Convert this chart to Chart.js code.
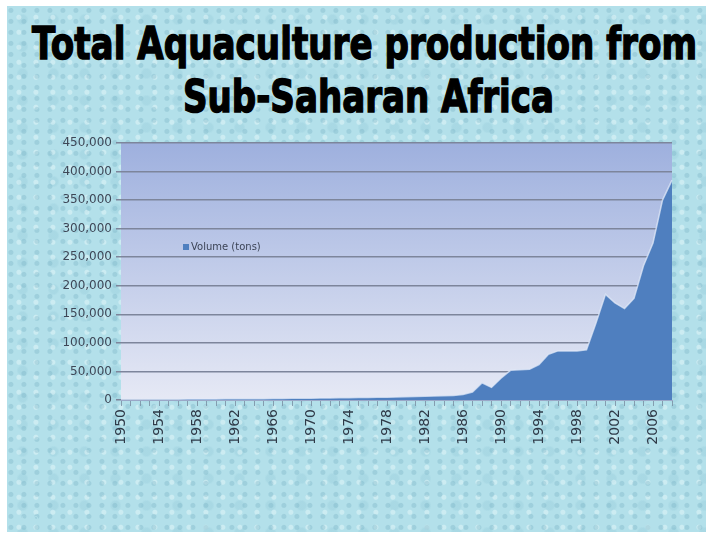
<!DOCTYPE html>
<html>
<head>
<meta charset="utf-8">
<script src="https://cdn.jsdelivr.net/npm/chart.js@4"></script>
<style>
    html, body { margin: 0; padding: 0; background: #fff; }
    body { width: 709px; height: 538px; position: relative; overflow: hidden; }
    #board {
        position: absolute; left: 7px; top: 6px; width: 699px; height: 526px;
        background:
            radial-gradient(circle at 30% 40%, rgba(110, 170, 190, 0.30) 0 2px, transparent 3px) 0 0 / 13px 11px,
            radial-gradient(circle at 70% 75%, rgba(235, 250, 252, 0.45) 0 2px, transparent 3px) 0 0 / 17px 15px,
            radial-gradient(circle at 50% 50%, rgba(120, 180, 200, 0.18) 0 4px, transparent 6px) 0 0 / 31px 27px,
            #b3e0ea;
    }
    .tline {
        position: absolute; white-space: nowrap;
        font-family: "DejaVu Sans", sans-serif;
        font-weight: bold; font-size: 44px; line-height: 54px; color: #000;
        -webkit-text-stroke: 1.5px #000;
        transform-origin: 0 0;
    }
    canvas { position: absolute; left: 0; top: 0; }
    #status { position: absolute; left: 12px; top: 515px; font: 9px "DejaVu Sans", sans-serif; color: #b3e0ea; }
</style>
</head>
<body>
<div id="board"></div>
<div class="tline" id="t1" data-left="32" data-width="665" style="top:17px">Total Aquaculture production from</div>
<div class="tline" id="t2" data-left="183" data-width="371" style="top:70px">Sub-Saharan Africa</div>
<canvas id="chart" width="709" height="538"></canvas>
<div id="status"></div>
<script>
const years = [
    1950, 1951, 1952, 1953, 1954, 1955, 1956, 1957, 1958, 1959,
    1960, 1961, 1962, 1963, 1964, 1965, 1966, 1967, 1968, 1969,
    1970, 1971, 1972, 1973, 1974, 1975, 1976, 1977, 1978, 1979,
    1980, 1981, 1982, 1983, 1984, 1985, 1986, 1987, 1988, 1989,
    1990, 1991, 1992, 1993, 1994, 1995, 1996, 1997, 1998, 1999,
    2000, 2001, 2002, 2003, 2004, 2005, 2006, 2007, 2008,
];

// tons
const volume = [
    800, 900, 1000, 1100, 1300, 1400, 1500, 1600, 1700, 1800,
    1900, 2000, 2100, 2200, 2300, 2400, 2600, 2700, 2900, 3000,
    3200, 3400, 3600, 3800, 4000, 4300, 4500, 4800, 5000, 5300,
    5600, 6000, 6500, 7000, 7400, 8000, 9500, 14000, 30000, 22000,
    38000, 52000, 53000, 54000, 62000, 80000, 86000, 86000, 86000, 88000,
    135000, 185000, 170000, 160000, 178000, 235000, 275000, 350000, 385000,
];

const seriesLabel = "Volume (tons)";
const yTicks = [0, 50000, 100000, 150000, 200000, 250000, 300000, 350000, 400000, 450000];

const areaBlue = "#4f7fbf";

// squeeze each title line to the width it has in the original
document.querySelectorAll(".tline").forEach((el) => {
    const w = el.getBoundingClientRect().width;
    const target = Number(el.dataset.width);
    el.style.left = el.dataset.left + "px";
    el.style.transform = `scaleX(${target / w})`;
});

// gradient behind the plot
const plotBackground = {
    id: "plotBackground",
    beforeDraw(chart) {
        const { ctx, chartArea: a } = chart;
        const g = ctx.createLinearGradient(0, a.top, 0, a.bottom);
        g.addColorStop(0, "#9eb0de");
        g.addColorStop(1, "#e6e9f5");
        ctx.save();
        ctx.fillStyle = g;
        ctx.fillRect(a.left, a.top, a.right - a.left, a.bottom - a.top);
        ctx.restore();
    },
};

// legend sitting inside the plot, like the original
const innerLegend = {
    id: "innerLegend",
    afterDraw(chart) {
        const { ctx, chartArea: a } = chart;
        const x = a.left + 62;
        const y = a.top + 104;
        ctx.save();
        ctx.fillStyle = areaBlue;
        ctx.fillRect(x, y - 3, 6, 6);
        ctx.fillStyle = "#3c4456";
        ctx.font = "10px 'DejaVu Sans', sans-serif";
        ctx.textBaseline = "middle";
        ctx.fillText(chart.data.datasets[0].label, x + 8, y);
        ctx.restore();
    },
};

const chart = new Chart(document.getElementById("chart"), {
    type: "line",
    data: {
        labels: years,
        datasets: [
            {
                label: seriesLabel,
                data: volume,
                borderColor: "rgba(225, 233, 248, 0.75)",
                backgroundColor: areaBlue,
                borderWidth: 1.5,
                pointRadius: 0,
                tension: 0,
                fill: "origin",
            },
        ],
    },
    options: {
        responsive: false,
        animation: false,
        layout: { padding: { left: 61, right: 37, top: 143, bottom: 58 } },
        plugins: {
            legend: { display: false },
            tooltip: { enabled: false },
        },
        scales: {
            x: {
                offset: false,
                afterFit: (s) => { s.height = 80; },
                grid: {
                    drawOnChartArea: false,
                    drawTicks: true,
                    tickLength: 6,
                    color: "rgba(120, 140, 160, 0.8)",
                },
                border: { color: "#9aa8c8" },
                ticks: {
                    autoSkip: false,
                    maxRotation: 90,
                    minRotation: 90,
                    padding: 3,
                    color: "#2f3a48",
                    font: { family: "'DejaVu Sans', sans-serif", size: 14 },
                    callback: function (value, index) {
                        const yr = years[index];
                        return (yr - 1950) % 4 === 0 && yr <= 2006 ? String(yr) : "";
                    },
                },
            },
            y: {
                min: 0,
                max: 450000,
                afterFit: (s) => { s.width = 60; },
                afterBuildTicks: (s) => { s.ticks = yTicks.map((v) => ({ value: v })); },
                grid: {
                    color: "#7d859b",
                    lineWidth: 1.5,
                    tickLength: 5,
                },
                border: { display: false },
                ticks: {
                    padding: 4,
                    color: "#3e4757",
                    font: { family: "'DejaVu Sans', sans-serif", size: 12 },
                    callback: (v) => v.toLocaleString("en-US"),
                },
            },
        },
    },
    plugins: [plotBackground, innerLegend],
});

// same post-render step as the run where the rotated labels showed up
document.getElementById("status").textContent = "rot " + chart.scales.x.labelRotation;
</script>
</body>
</html>
